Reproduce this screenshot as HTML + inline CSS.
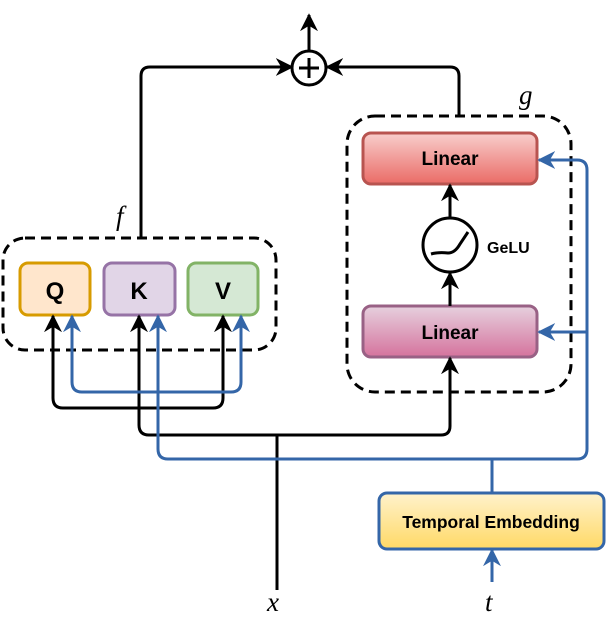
<!DOCTYPE html>
<html><head><meta charset="utf-8"><style>
body{margin:0;background:#fff}
text{font-family:"Liberation Sans",sans-serif;font-weight:bold}
text.m{font-family:"Liberation Serif",serif;font-weight:normal;font-style:italic}
</style></head><body>
<svg width="609" height="631" viewBox="0 0 609 631" xmlns="http://www.w3.org/2000/svg">
<defs>
<marker id="ak" viewBox="0 0 10 10" refX="9" refY="5" markerWidth="18" markerHeight="18" orient="auto" markerUnits="userSpaceOnUse"><path d="M0,0 L10,5 L0,10 L3,5z" fill="#000"/></marker>
<marker id="au" viewBox="0 0 10 10" refX="9" refY="5" markerWidth="18" markerHeight="18" orient="auto" markerUnits="userSpaceOnUse"><path d="M0,0 L10,5 L0,10 L3,5z" fill="#3466a8"/></marker>
<linearGradient id="gr" x1="0" y1="0" x2="0" y2="1"><stop offset="0" stop-color="#f8cecc"/><stop offset="1" stop-color="#ea6b66"/></linearGradient>
<linearGradient id="gp" x1="0" y1="0" x2="0" y2="1"><stop offset="0" stop-color="#e6d0de"/><stop offset="1" stop-color="#d5739d"/></linearGradient>
<linearGradient id="gy" x1="0" y1="0" x2="0" y2="1"><stop offset="0" stop-color="#fff2cc"/><stop offset="1" stop-color="#ffd966"/></linearGradient>
</defs>
<rect x="20" y="263" width="70" height="52" rx="8" fill="#ffe6cc" stroke="#d79b00" stroke-width="3"/>
<rect x="104" y="263" width="71" height="52" rx="8" fill="#e1d5e7" stroke="#9673a6" stroke-width="3"/>
<rect x="188" y="263" width="70" height="52" rx="8" fill="#d5e8d4" stroke="#82b366" stroke-width="3"/>
<text x="55" y="299" font-size="24" text-anchor="middle">Q</text>
<text x="139" y="299" font-size="24" text-anchor="middle">K</text>
<text x="223" y="299" font-size="24" text-anchor="middle">V</text>
<rect x="363" y="133" width="174" height="51" rx="8" fill="url(#gr)" stroke="#b85450" stroke-width="3"/>
<rect x="363" y="306" width="174" height="51" rx="8" fill="url(#gp)" stroke="#996185" stroke-width="3"/>
<text x="450" y="165" font-size="19" text-anchor="middle">Linear</text>
<text x="450" y="339" font-size="19" text-anchor="middle">Linear</text>
<text x="487" y="253" font-size="16">GeLU</text>
<rect x="379" y="493" width="225" height="56" rx="8" fill="url(#gy)" stroke="#3466a8" stroke-width="3"/>
<text x="491" y="528" font-size="17.5" text-anchor="middle">Temporal Embedding</text>
<g fill="none" stroke-width="3">
<rect x="3" y="238" width="273" height="112" rx="22" stroke="#000" stroke-dasharray="10,6"/>
<rect x="347" y="116" width="224" height="276" rx="28" stroke="#000" stroke-dasharray="10,6"/>
<path d="M141,238 V76 Q141,67 150,67 H292" stroke="#000" marker-end="url(#ak)"/>
<path d="M459,116 V76 Q459,67 450,67 H327" stroke="#000" marker-end="url(#ak)"/>
<path d="M309,51 V15" stroke="#000" marker-end="url(#ak)"/>
<circle cx="309" cy="68" r="17" stroke="#000" fill="#fff"/>
<path d="M309,58 V78 M299,68 H319" stroke="#000"/>
<path d="M277,590 V435" stroke="#000"/>
<path d="M277,435 H149 Q139,435 139,425 V316" stroke="#000" marker-end="url(#ak)"/>
<path d="M277,435 H441 Q450,435 450,426 V358" stroke="#000" marker-end="url(#ak)"/>
<path d="M139,408 H63 Q53,408 53,398 V316" stroke="#000" marker-end="url(#ak)"/>
<path d="M139,408 H213 Q223,408 223,398 V316" stroke="#000" marker-end="url(#ak)"/>
<path d="M157,392 H82 Q72,392 72,382 V316" stroke="#3466a8" marker-end="url(#au)"/>
<path d="M157,392 H231 Q241,392 241,382 V316" stroke="#3466a8" marker-end="url(#au)"/>
<path d="M492,459 H168 Q158,459 158,449 V316" stroke="#3466a8" marker-end="url(#au)"/>
<path d="M492,459 H577 Q587,459 587,449 V170 Q587,160 577,160 H539" stroke="#3466a8" marker-end="url(#au)"/>
<path d="M587,332 H539" stroke="#3466a8" marker-end="url(#au)"/>
<path d="M492,492 V459" stroke="#3466a8"/>
<path d="M492,582 V550" stroke="#3466a8" marker-end="url(#au)"/>
<path d="M450,306 V273" stroke="#000" marker-end="url(#ak)"/>
<path d="M450,218 V185" stroke="#000" marker-end="url(#ak)"/>
<circle cx="450" cy="245" r="27" stroke="#000"/>
<path d="M431,254 Q438,252 448,253 Q455,253 460,244 L468,232" stroke="#000"/>
</g>
<text class="m" x="116" y="225" font-size="27">f</text>
<text class="m" x="519" y="104" font-size="27">g</text>
<text class="m" x="267" y="611" font-size="27">x</text>
<text class="m" x="485" y="611" font-size="27">t</text>
</svg>
</body></html>
